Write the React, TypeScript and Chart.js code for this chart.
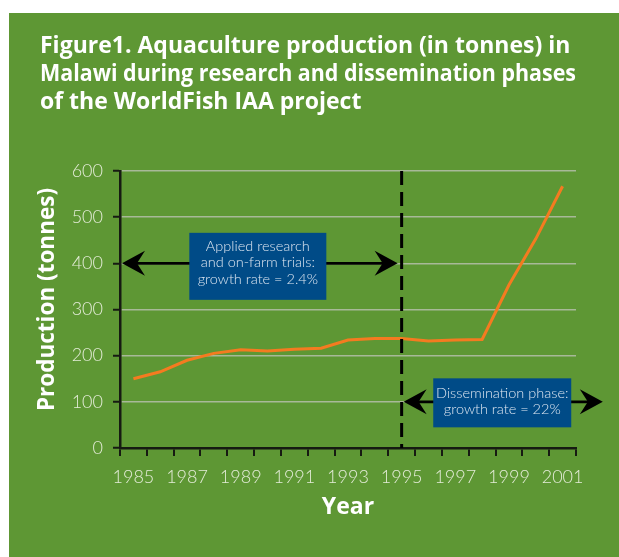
import React, { useEffect, useRef } from "react";
import { Chart, registerables } from "chart.js";

Chart.register(...registerables);

// ---- data ----
const years = ["1985", "1986", "1987", "1988", "1989", "1990", "1991", "1992", "1993", "1994", "1995", "1996", "1997", "1998", "1999", "2000", "2001"];
const production = [150, 165, 190, 205, 213, 210, 214, 216, 234, 237, 237, 232, 234, 235, 353, 453, 567];
const yMin = 0;
const yMax = 600;
const yStep = 100;
const titleLines = [
  "Figure1. Aquaculture production (in tonnes) in",
  "Malawi during research and dissemination phases",
  "of the WorldFish IAA project",
];
const yAxisTitle = "Production (tonnes)";
const xAxisTitle = "Year";
const phaseBoundary = "1995";
const researchArrowValue = 400;
const disseminationArrowValue = 100;
const researchNote = ["Applied research", "and on-farm trials:", "growth rate = 2.4%"];
const disseminationNote = ["Dissemination phase:", "growth rate = 22%"];

// ---- styles ----
const GREEN = "rgb(94,151,52)";
const BLUE = "rgb(0,75,135)";
const ORANGE = "#f47b20";
const AXIS = "#161a12";
const TICK_TEXT = "#e4ecd8";
const GRID = "rgba(200,200,195,0.7)";
const BOLD = "'Open Sans', 'Noto Sans', sans-serif";
const LIGHT = "Lato, 'Open Sans', sans-serif";

function arrowHead(ctx: CanvasRenderingContext2D, tipX: number, y: number, dir: number) {
  ctx.beginPath();
  ctx.moveTo(tipX, y);
  ctx.lineTo(tipX - dir * 23, y - 12.5);
  ctx.lineTo(tipX - dir * 15, y);
  ctx.lineTo(tipX - dir * 23, y + 12.5);
  ctx.closePath();
  ctx.fill();
}

function doubleArrow(ctx: CanvasRenderingContext2D, x1: number, x2: number, y: number) {
  ctx.strokeStyle = "#000";
  ctx.fillStyle = "#000";
  ctx.lineWidth = 2.8;
  ctx.beginPath();
  ctx.moveTo(x1 + 12, y);
  ctx.lineTo(x2 - 12, y);
  ctx.stroke();
  arrowHead(ctx, x1, y, -1);
  arrowHead(ctx, x2, y, 1);
}

function noteBox(
  ctx: CanvasRenderingContext2D,
  cx: number,
  cy: number,
  w: number,
  h: number,
  lines: string[],
  lh: number,
  textShift: number
) {
  ctx.fillStyle = BLUE;
  ctx.fillRect(cx - w / 2, cy - h / 2, w, h);
  ctx.fillStyle = "#dde6f1";
  ctx.font = `300 14.5px ${LIGHT}`;
  ctx.textAlign = "center";
  ctx.textBaseline = "middle";
  lines.forEach((t, i) => {
    ctx.fillText(t, cx, cy + textShift + (i - (lines.length - 1) / 2) * lh);
  });
}

const backgroundPlugin = {
  id: "panelBackground",
  beforeDraw(chart: any) {
    const { ctx, width, height } = chart;
    ctx.save();
    ctx.fillStyle = "#ffffff";
    ctx.fillRect(0, 0, width, height);
    ctx.fillStyle = GREEN;
    ctx.fillRect(9, 13, width - 9, height - 13);
    ctx.restore();
  },
};

const annotationPlugin = {
  id: "phaseAnnotations",
  afterDatasetsDraw(chart: any) {
    const { ctx, chartArea: ca, scales } = chart;
    const x = scales.x;
    const y = scales.y;
    const xb = x.getPixelForValue(years.indexOf(phaseBoundary));
    const step = x.getPixelForValue(1) - x.getPixelForValue(0);
    ctx.save();
    ctx.strokeStyle = "#000";
    ctx.lineWidth = 3;
    ctx.setLineDash([14, 7]);
    ctx.beginPath();
    ctx.moveTo(xb, ca.top);
    ctx.lineTo(xb, ca.bottom);
    ctx.stroke();
    ctx.setLineDash([]);

    const y1 = y.getPixelForValue(researchArrowValue);
    doubleArrow(ctx, ca.left + 2, xb - 4, y1);
    const y2 = y.getPixelForValue(disseminationArrowValue);
    const rightTip = ca.right + step;
    doubleArrow(ctx, xb + 2, rightTip, y2);

    noteBox(ctx, (ca.left + xb) / 2 - 3, y1 + 3, 137, 67, researchNote, 16.5, -4);
    noteBox(ctx, (xb + rightTip) / 2, y2 + 1, 138, 49, disseminationNote, 16, -1.5);
    ctx.restore();
  },
};

const yTitlePlugin = {
  id: "yTitle",
  afterDraw(chart: any) {
    const { ctx, chartArea: ca } = chart;
    ctx.save();
    ctx.translate(48, (ca.top + ca.bottom) / 2 - 10);
    ctx.rotate(-Math.PI / 2);
    ctx.fillStyle = "#ffffff";
    ctx.font = `bold 22.5px ${BOLD}`;
    ctx.textAlign = "center";
    ctx.textBaseline = "middle";
    ctx.fillText(yAxisTitle, 0, 0);
    ctx.restore();
  },
};

export default function App() {
  const canvasRef = useRef<HTMLCanvasElement | null>(null);

  useEffect(() => {
    const canvas = canvasRef.current;
    if (!canvas) return;
    const chart = new Chart(canvas, {
      type: "line",
      data: {
        labels: years,
        datasets: [
          {
            data: production,
            borderColor: ORANGE,
            borderWidth: 3,
            pointRadius: 0,
            tension: 0,
            fill: false,
          },
        ],
      },
      options: {
        responsive: false,
        animation: false,
        layout: { padding: { left: 40, right: 43, top: 0, bottom: 0 } },
        plugins: {
          legend: { display: false },
          tooltip: { enabled: false },
          title: {
            display: true,
            text: titleLines,
            align: "start",
            color: "#ffffff",
            font: { family: BOLD, size: 23, weight: "bold", lineHeight: 28 / 23 },
            padding: { top: 32, bottom: 55 },
          },
        },
        scales: {
          x: {
            type: "category",
            offset: true,
            afterFit(scale: any) {
              scale.height = 109;
            },
            border: { color: AXIS, width: 2.5 },
            grid: {
              offset: true,
              drawOnChartArea: false,
              drawTicks: true,
              tickLength: 8,
              color: AXIS,
              lineWidth: 2,
            },
            ticks: {
              autoSkip: false,
              maxRotation: 0,
              padding: 10,
              color: TICK_TEXT,
              font: { family: LIGHT, size: 18, weight: "300" },
              callback: (_v: any, i: number) => (i % 2 === 0 ? years[i] : ""),
            },
            title: {
              display: true,
              text: xAxisTitle,
              color: "#ffffff",
              font: { family: BOLD, size: 23, weight: "bold", lineHeight: 1.2 },
              padding: { top: 0, bottom: 36 },
            },
          },
          y: {
            min: yMin,
            max: yMax,
            afterFit(scale: any) {
              scale.width = 80;
            },
            border: { color: AXIS, width: 2.5 },
            grid: {
              drawTicks: true,
              tickLength: 7,
              tickColor: AXIS,
              tickWidth: 2,
              lineWidth: 1.5,
              color: (c: any) => (c.tick && c.tick.value === 0 ? "rgba(0,0,0,0)" : GRID),
            },
            ticks: {
              stepSize: yStep,
              padding: 10,
              color: TICK_TEXT,
              font: { family: LIGHT, size: 18, weight: "300" },
            },
          },
        },
      },
      plugins: [backgroundPlugin, annotationPlugin, yTitlePlugin],
    } as any);
    return () => chart.destroy();
  }, []);

  return (
    <div style={{ position: "absolute", left: 0, top: 0, width: 619, height: 557 }}>
      <canvas ref={canvasRef} width={619} height={557} style={{ display: "block" }} />
    </div>
  );
}
